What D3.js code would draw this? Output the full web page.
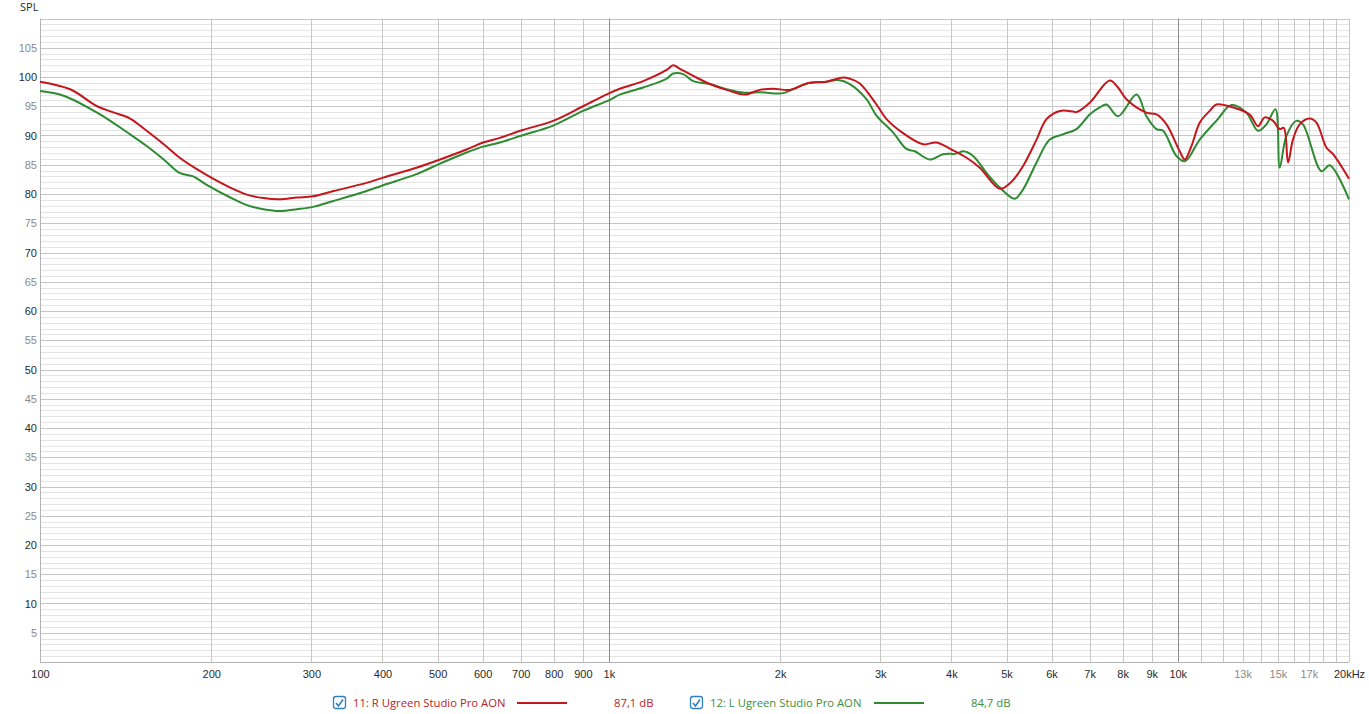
<!DOCTYPE html>
<html lang="en">
<head>
<meta charset="UTF-8">
<title>SPL</title>
<style>
  body { margin: 0; background: #fff; }
  svg { display: block; font-family: "Open Sans", "Noto Sans", sans-serif; }
  .tick text { font-size: 11px; }
  .legend text { font-size: 11.3px; }
</style>
</head>
<body>
<svg id="chart" width="1369" height="714"></svg>
<script src="https://cdn.jsdelivr.net/npm/d3@7"></script>
<script>
// R channel (Hz, dB)
var freqR = [100,113,126,135,144,154,165,176,189,200,216,231,247,264,283,302,328,375,401,459,505,562,601,643,703,798,901,1004,1045,1149,1263,1297,1333,1407,1505,1610,1734,1842,1945,2080,2226,2413,2581,2652,2761,2954,3077,3290,3568,3766,4003,4254,4487,4867,5103,5348,5647,5879,6204,6546,6637,7003,7594,7853,8124,8810,9175,9555,10080,10290,10570,10930,11380,11690,12510,13380,13840,14220,14710,15110,15360,15630,15940,16380,17060,17530,18260,18750,20000];
var splR  = [99.2,97.9,95.0,93.9,92.9,90.8,88.5,86.2,84.2,82.8,81.1,79.9,79.3,79.1,79.4,79.6,80.5,81.9,82.8,84.5,85.9,87.6,88.8,89.6,90.9,92.5,95.0,97.3,98.0,99.3,101.2,102.0,101.4,100.2,98.8,97.8,97.0,97.8,98.0,97.8,98.9,99.2,99.9,99.7,98.9,95.3,92.8,90.4,88.5,88.8,87.6,86.2,84.5,80.9,82.1,84.8,89.3,92.8,94.2,94.1,94.0,95.6,99.4,98.2,96.2,93.9,93.6,91.9,87.3,85.9,88.2,92.2,94.2,95.3,94.8,93.6,91.6,93.1,92.5,91.1,91.3,85.4,89.3,91.9,92.9,92.2,87.9,86.8,82.6];

// L channel (Hz, dB)
var freqL = [100,110,126,144,154,165,176,186,196,216,231,247,264,283,302,328,375,401,459,505,562,601,643,703,798,901,1004,1045,1149,1263,1297,1351,1407,1505,1610,1734,1842,2012,2109,2256,2413,2529,2652,2837,2954,3160,3336,3450,3665,3868,4084,4195,4368,4611,4867,5171,5348,5647,5957,6287,6637,7003,7293,7494,7853,8463,8810,9175,9424,9947,10290,10930,11690,12430,13200,13840,14320,14850,15110,15520,16160,16600,17890,18500,20000];
var splL  = [97.6,96.8,93.9,90.2,88.2,85.9,83.6,83.0,81.6,79.4,78.1,77.4,77.1,77.4,77.8,78.8,80.5,81.5,83.4,85.2,87.1,88.1,88.8,90.0,91.7,94.2,96.1,97.0,98.2,99.7,100.6,100.5,99.3,98.8,97.9,97.3,97.4,97.2,97.9,99.0,99.2,99.5,98.8,96.2,93.4,90.5,87.7,87.3,85.9,86.8,86.9,87.3,86.5,83.6,81.1,79.2,80.8,85.4,89.3,90.2,91.1,93.6,94.8,95.3,93.3,97.0,93.3,91.1,90.8,86.5,85.6,89.3,92.5,95.2,93.9,90.8,91.9,94.5,84.5,89.9,92.5,91.9,83.9,84.9,79.1];

var yTicks = [5,10,15,20,25,30,35,40,45,50,55,60,65,70,75,80,85,90,95,100,105];
var xTicks = [100,200,300,400,500,600,700,800,900,1000,2000,3000,4000,5000,6000,7000,8000,9000,10000,13000,15000,17000,20000];
var xLabels = ["100","200","300","400","500","600","700","800","900","1k","2k","3k","4k","5k","6k","7k","8k","9k","10k","13k","15k","17k","20kHz"];
var xGrid = [200,300,400,500,600,700,800,900,1000,2000,3000,4000,5000,6000,7000,8000,9000,10000,11000,12000,13000,14000,15000,16000,17000,18000,19000,20000];

var legendNames = ["11: R Ugreen Studio Pro AON", "12: L Ugreen Studio Pro AON"];
var legendValues = ["87,1 dB", "84,7 dB"];
var colors = ["#c4161c", "#2e8b32"];
var textColors = ["#b8222a", "#3b8f3b"];

var svg = d3.select("#chart");
var plotL = 40, plotR = 1349, plotT = 18.5, plotB = 662;

var x = d3.scaleLog().domain([100, 20000]).range([plotL, plotR]);
var y = d3.scaleLinear().domain([0, 110]).range([plotB, plotT]);

// horizontal grid, every 1 dB
var g = svg.append("g");
g.selectAll(".hg")
  .data(d3.range(1, 111))
  .enter().append("line")
    .attr("x1", plotL).attr("x2", plotR)
    .attr("y1", function(d){ return Math.round(y(d)) + 0.5; })
    .attr("y2", function(d){ return Math.round(y(d)) + 0.5; })
    .attr("stroke", function(d){ return d % 5 == 0 ? "#c6c6c6" : "#e4e4e4"; })
    .attr("stroke-width", 1);

// vertical grid
g.selectAll(".vg")
  .data(xGrid)
  .enter().append("line")
    .attr("x1", function(d){ return Math.round(x(d)) + 0.5; })
    .attr("x2", function(d){ return Math.round(x(d)) + 0.5; })
    .attr("y1", plotT).attr("y2", plotB)
    .attr("stroke", function(d){ return (d == 1000 || d == 10000) ? "#8c8c8c" : "#c8c8c8"; })
    .attr("stroke-width", 1);

// axis frame (left + bottom)
g.append("line").attr("x1", plotL + 0.5).attr("x2", plotL + 0.5).attr("y1", plotT).attr("y2", plotB + 0.5).attr("stroke", "#b4b4b4");
g.append("line").attr("x1", plotL).attr("x2", plotR).attr("y1", Math.round(plotB) + 0.5).attr("y2", Math.round(plotB) + 0.5).attr("stroke", "#b4b4b4");

// y axis labels
var yAxis = svg.append("g")
  .attr("transform", "translate(" + plotL + ",0)")
  .call(d3.axisLeft(y).tickValues(yTicks).tickSize(0).tickPadding(3));
yAxis.select(".domain").remove();
yAxis.selectAll("text").attr("fill", function(d){ return d % 10 == 0 ? "#2a2a2a" : "#8a8a8a"; });

// x axis labels
var xAxis = svg.append("g")
  .attr("transform", "translate(0," + plotB + ")")
  .call(d3.axisBottom(x).tickValues(xTicks).tickSize(0).tickPadding(8)
    .tickFormat(function(d, i){ return xLabels[i]; }));
xAxis.select(".domain").remove();
xAxis.selectAll("text").attr("fill", function(d){ return (d == 13000 || d == 15000 || d == 17000) ? "#8a8a8a" : "#2a2a2a"; });

svg.append("text").attr("x", 20).attr("y", 11).attr("font-size", 11).attr("fill", "#2a2a2a").text("SPL");

// curves
var line = d3.line()
  .x(function(d){ return x(d[0]); })
  .y(function(d){ return y(d[1]); })
  .curve(d3.curveCatmullRom.alpha(0.5));

var series = [d3.zip(freqL, splL), d3.zip(freqR, splR)];
var seriesColors = [colors[1], colors[0]];
svg.selectAll(".curve")
  .data(series)
  .enter().append("path")
    .attr("d", line)
    .attr("fill", "none")
    .attr("stroke", function(d, i){ return seriesColors[i]; })
    .attr("stroke-width", 2)
    .attr("stroke-linejoin", "round");

// legend
var legendX = [333, 690];
var lg = svg.selectAll(".legend")
  .data(legendNames)
  .enter().append("g")
    .attr("class", "legend")
    .attr("transform", function(d, i){ return "translate(" + legendX[i] + ",703)"; });

lg.append("rect")
  .attr("x", 0.5).attr("y", -6.5).attr("width", 12).attr("height", 12).attr("rx", 2.5)
  .attr("fill", "#fff").attr("stroke", "#2f7fc1").attr("stroke-width", 1.3);
lg.append("path")
  .attr("d", "M3,0 L5.5,3 L10,-3.5")
  .attr("fill", "none").attr("stroke", "#2f7fc1").attr("stroke-width", 1.6);
lg.append("text")
  .attr("x", 20).attr("y", 4)
  .attr("fill", function(d, i){ return textColors[i]; })
  .text(function(d){ return d; });
lg.append("line")
  .attr("x1", 184).attr("x2", 234).attr("y1", 0).attr("y2", 0)
  .attr("stroke", function(d, i){ return colors[i]; }).attr("stroke-width", 2);
lg.append("text")
  .attr("x", 281).attr("y", 4)
  .attr("fill", function(d, i){ return textColors[i]; })
  .text(function(d, i){ return legendValues[i]; });
</script>
</body>
</html>
